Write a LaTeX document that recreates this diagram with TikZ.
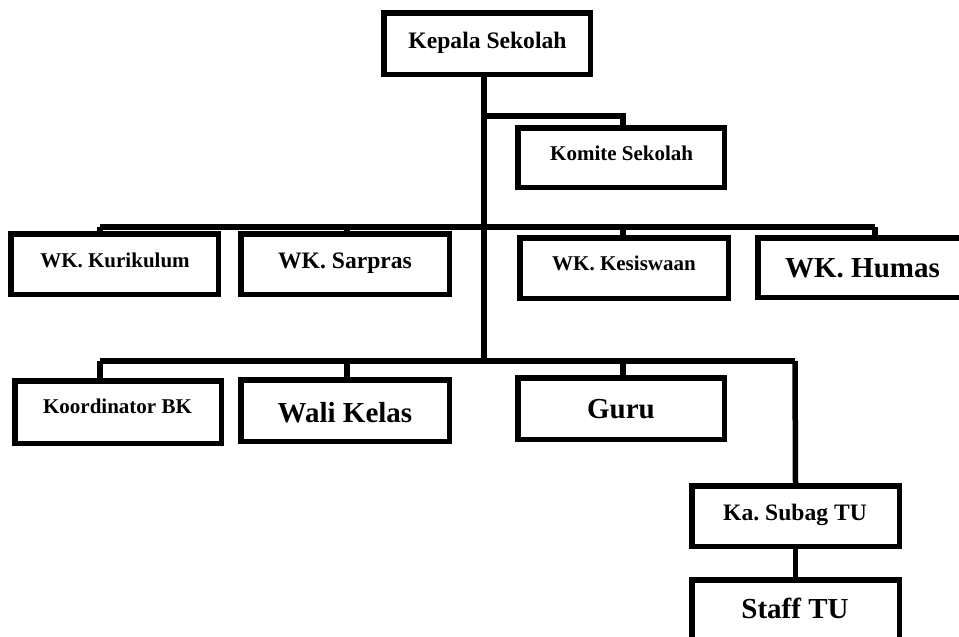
\documentclass[tikz,border=0pt]{standalone}
\usepackage{fontspec}
\setmainfont{Liberation Serif}
\frenchspacing
\tikzset{
  orgbox/.style={draw, line width=5.5pt, inner sep=0pt, minimum width=207pt, minimum height=61pt},
  lbl/.style={anchor=base, inner sep=0pt, font=\bfseries},
  sz21/.style={font=\bfseries\frenchspacing\fontsize{21}{24}\selectfont},
  sz24/.style={font=\bfseries\frenchspacing\fontsize{23.6}{27}\selectfont},
  sz29/.style={font=\bfseries\frenchspacing\fontsize{29}{33}\selectfont},
  conn/.style={line width=5.5pt, line join=miter}
}
\begin{document}
\begin{tikzpicture}[x=1pt,y=-1pt]
\useasboundingbox (0,0) rectangle (959,637);
\fill[white] (0,0) rectangle (959,637);
\clip (0,0) rectangle (959,637);
% boxes
\node[orgbox, minimum width=206.5pt, minimum height=61.5pt] (kep) at (487,43.5) {};
\node[orgbox, minimum width=206.5pt, minimum height=59.5pt] (kom) at (621,157.5) {};
\node[orgbox, minimum width=207.5pt, minimum height=60.5pt] (kur) at (114.5,264) {};
\node[orgbox, minimum width=208.5pt, minimum height=60.5pt] (sar) at (345,264) {};
\node[orgbox, minimum width=208.5pt, minimum height=60.5pt] (kes) at (624,268) {};
\node[orgbox, minimum width=209.5pt, minimum height=59.5pt] (hum) at (862.5,267.5) {};
\node[orgbox, minimum width=206.5pt, minimum height=62.5pt] (koo) at (118,412) {};
\node[orgbox, minimum width=208.5pt, minimum height=61.5pt] (wal) at (345,410.5) {};
\node[orgbox, minimum width=206.5pt, minimum height=61.5pt] (gur) at (621,408.5) {};
\node[orgbox, minimum width=207.5pt, minimum height=60.5pt] (sub) at (795.5,516) {};
\node[orgbox, minimum width=207.5pt, minimum height=60.5pt] (stf) at (795.5,610) {};
% labels
\node[lbl, sz24] (tkep) at (487.5,48) {Kepala Sekolah};
\node[lbl, sz21] (tkom) at (621.7,160) {Komite Sekolah};
\node[lbl, sz21] (tkur) at (115,267) {WK. Kurikulum};
\node[lbl, sz24] (tsar) at (345,268) {WK. Sarpras};
\node[lbl, sz21] (tkes) at (624,270) {WK. Kesiswaan};
\node[lbl, sz29] (thum) at (862.5,277) {WK. Humas};
\node[lbl, sz21] (tkoo) at (117.5,413) {Koordinator BK};
\node[lbl, sz29] (twal) at (345,422) {Wali Kelas};
\node[lbl, sz29] (tgur) at (621,418) {Guru};
\node[lbl, sz24] (tsub) at (795,520) {Ka. Subag TU};
\node[lbl, sz29] (tstf) at (795,618) {Staff TU};
% junction coordinates
\coordinate (top) at (484,0);
\coordinate (jkom) at (484,116);
\coordinate (jwk) at (484,227);
\coordinate (jbot) at (484,361);
\coordinate (wkL) at (100,227);
\coordinate (wkR) at (875,227);
\coordinate (bL) at (100,361);
\coordinate (bR) at (795,361);
% connectors
\draw[conn] (kep.south -| top) -- (jbot);
\draw[conn] (jkom) -| (623,0 |- kom.north);
\draw[conn] (wkL) -- (wkR);
\draw[conn] (wkL) -- (wkL |- kur.north);
\draw[conn] (347,227) -- (347,0 |- sar.north);
\draw[conn] (623,227) -- (623,0 |- kes.north);
\draw[conn] (wkR) -- (wkR |- hum.north);
\draw[conn] (bL) -- (bR);
\draw[conn] (bL) -- (bL |- koo.north);
\draw[conn] (347,361) -- (347,0 |- wal.north);
\draw[conn] (623,361) -- (623,0 |- gur.north);
\draw[conn] (bR) -- (sub.north);
\draw[conn] (sub.south) -- (stf.north);
\end{tikzpicture}
\end{document}
